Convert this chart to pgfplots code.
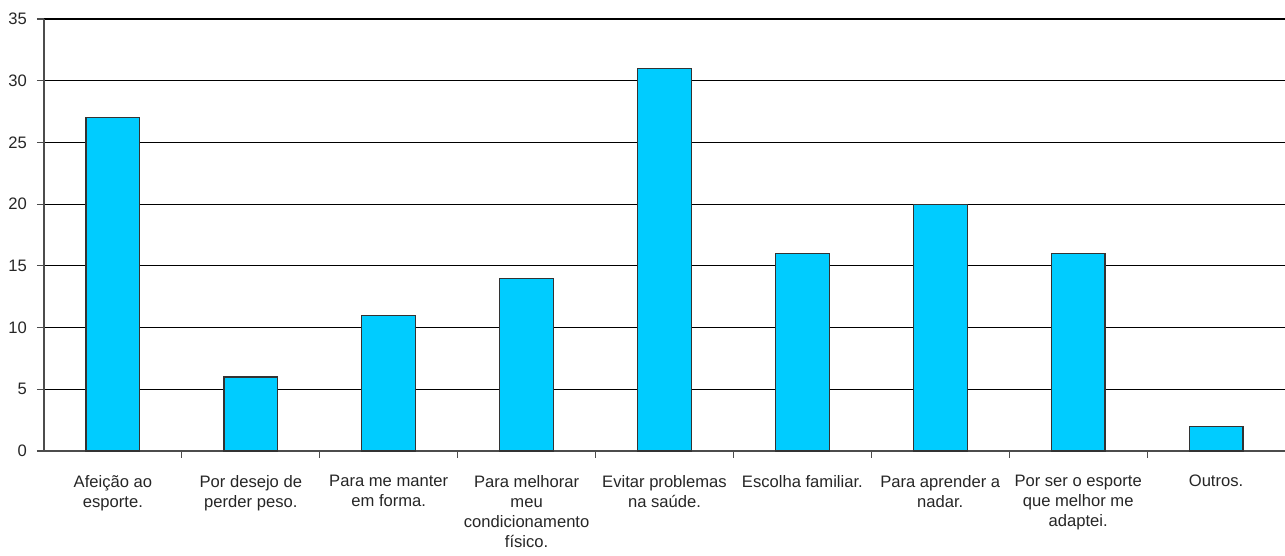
\documentclass[border=0pt]{standalone}
\usepackage{pgfplots}
\pgfplotsset{compat=1.18}
\usepackage{fontspec}
\setmainfont{Liberation Sans}
\definecolor{barcyan}{HTML}{00CCFF}
\begin{document}
\begin{tikzpicture}
\begin{axis}[
  at={(0pt,0pt)}, anchor=south west,
  scale only axis,
  width=620.5pt, height=216pt,
  xmin=-0.5, xmax=8.5,
  ymin=0, ymax=35,
  ytick={0,5,...,35},
  axis x line*=bottom, axis y line*=left,
  axis line style={line width=0.6pt, black!70},
  ymajorgrids,
  major grid style={black, line width=0.6pt},
  tick align=outside,
  major tick length=3.5pt,
  minor tick length=3.5pt,
  xtick={0,...,8},
  major x tick style={draw=none},
  minor xtick={0.5,1.5,...,7.5},
  minor x tick style={black!70, line width=0.6pt},
  y tick style={black!70, line width=0.6pt},
  xticklabels={{Afeição ao\\esporte.},{Por desejo de\\perder peso.},{Para me manter\\em forma.},{Para melhorar\\meu\\condicionamento\\físico.},{Evitar problemas\\na saúde.},{Escolha familiar.},{Para aprender a\\nadar.},{Por ser o esporte\\que melhor me\\adaptei.},{Outros.}},
  xticklabel style={align=center, font=\fontsize{8.3pt}{10pt}\selectfont, anchor=north, yshift=-5pt, text=black!85},
  yticklabel style={font=\fontsize{8.3pt}{10pt}\selectfont, text=black!85, xshift=-1.5pt},
  /pgf/number format/assume math mode=true,
  ybar, bar width=0.39,
  clip=false,
]
\addplot[fill=barcyan, draw=black!80, line width=0.6pt] coordinates {
(0,27) (1,6) (2,11) (3,14) (4,31) (5,16) (6,20) (7,16) (8,2)};
\end{axis}
\pgfresetboundingbox
\path[use as bounding box] (-22pt,-52.5pt) rectangle (620.5pt,225.5pt);
\end{tikzpicture}
\end{document}
